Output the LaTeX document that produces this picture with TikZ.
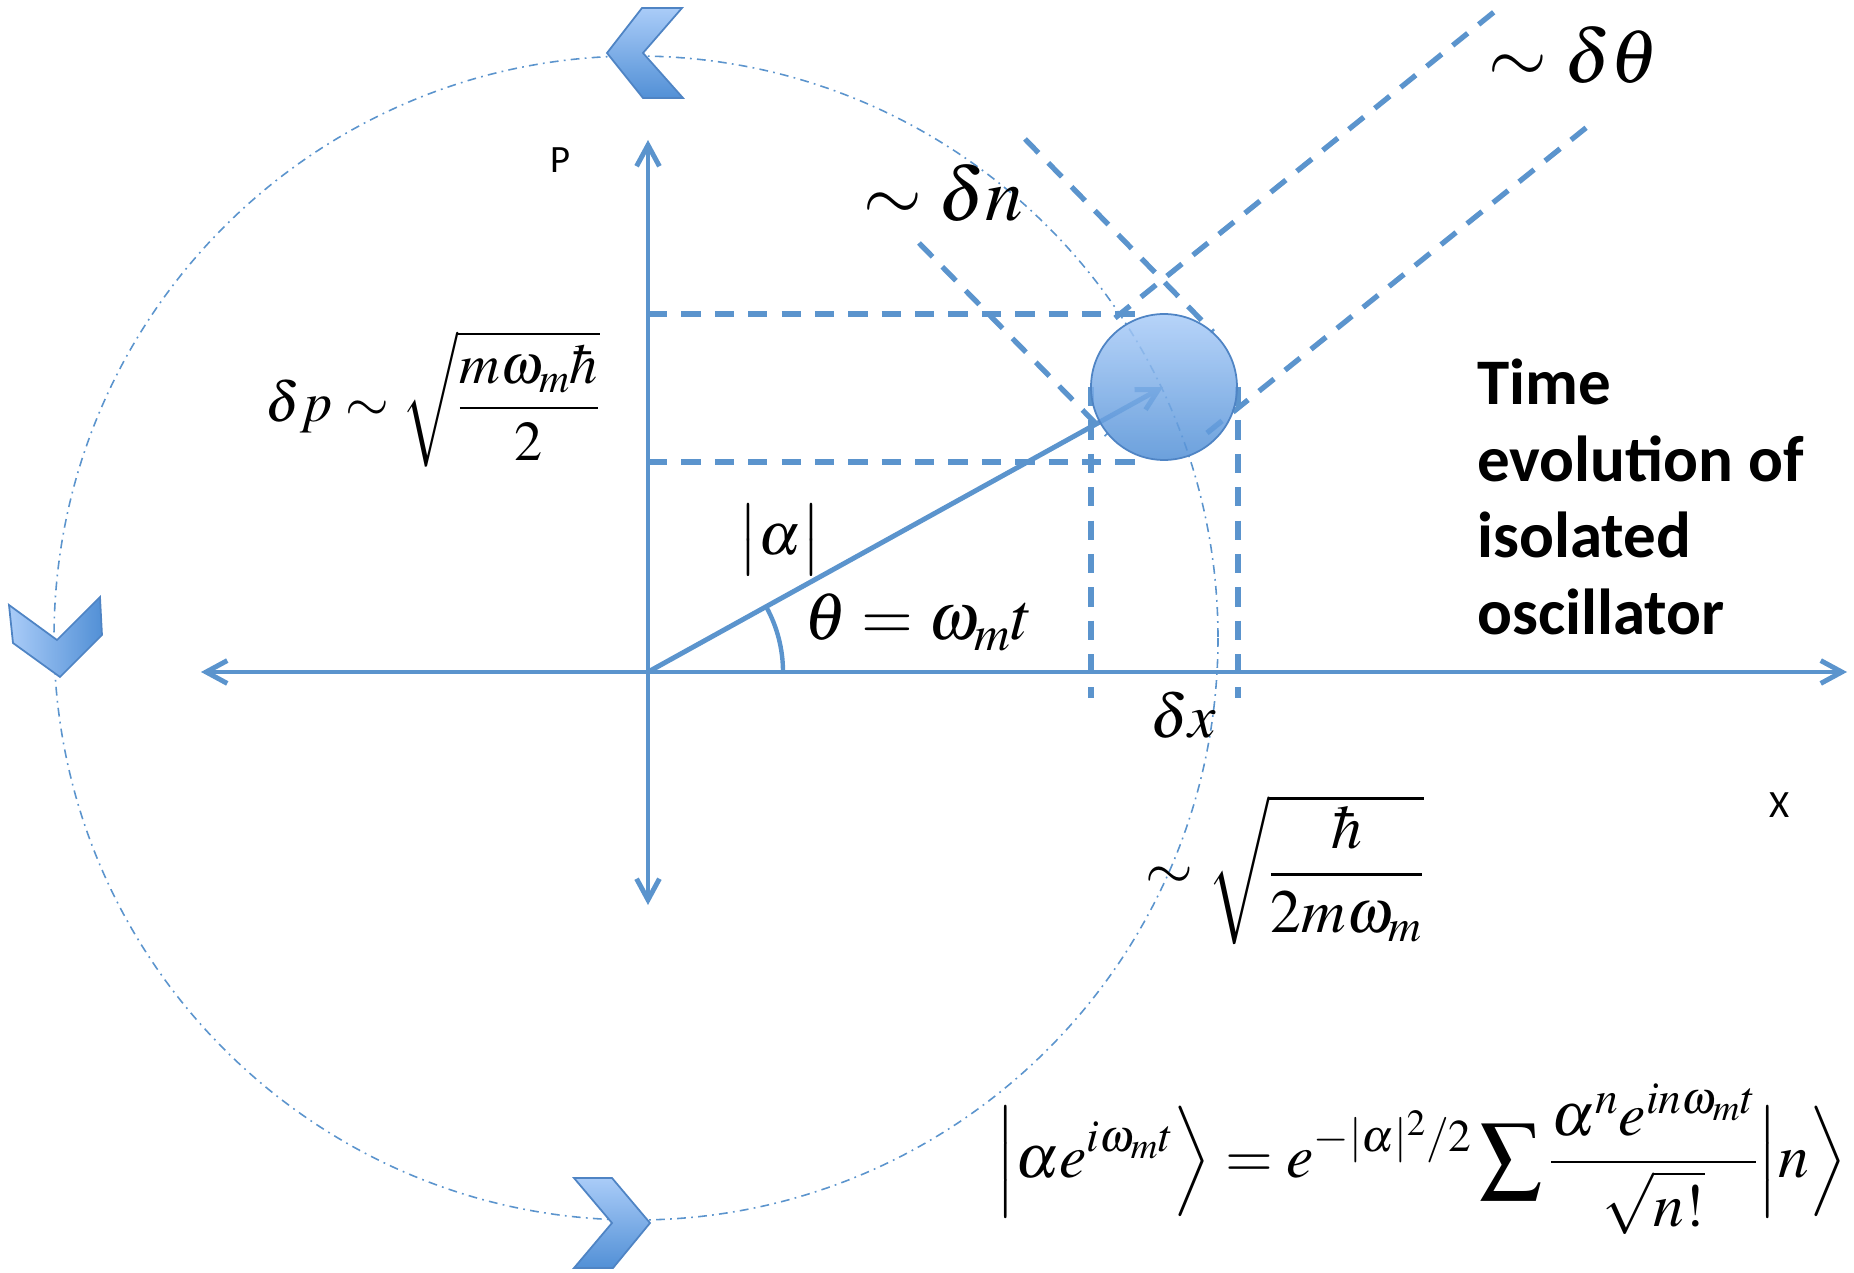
\documentclass[tikz,border=0pt]{standalone}
\usepackage{amsmath}
\usepackage{mathptmx}
\usepackage[no-math]{fontspec}
\newfontfamily\calibri{Carlito}
\usepackage{tikz}
\usetikzlibrary{arrows.meta}
\definecolor{linecol}{RGB}{91,148,205}
\definecolor{lighttop}{RGB}{170,204,248}
\definecolor{darkbot}{RGB}{82,144,214}
\definecolor{edgecol}{RGB}{79,132,196}
\tikzset{
  axis line/.style={
    draw=linecol,
    line width=2.8pt,
    line cap=round,
    {Straight Barb[length=12pt,width=13pt]}-{Straight Barb[length=12pt,width=13pt]}
  },
  vector/.style={
    draw=linecol,
    line width=2.8pt,
    line cap=round,
    -{Straight Barb[length=12pt,width=13pt]}
  },
  guide/.style={
    draw=linecol,
    line width=3pt,
    dash pattern=on 11pt off 8pt
  },
  orbit/.style={
    draw=linecol,
    line width=0.9pt,
    dash pattern=on 5pt off 3pt on 1pt off 3pt
  },
  chevron/.style={
    draw=edgecol,
    line width=1pt,
    line join=miter
  },
  blob/.style={
    circle,
    draw=edgecol,
    line width=1pt,
    top color=lighttop,
    bottom color=darkbot,
    fill opacity=0.85,
    minimum size=2.92cm
  },
  axis label/.style={font=\calibri\fontsize{22}{26}\selectfont, inner sep=0pt},
  title text/.style={font=\calibri\bfseries\fontsize{37}{43.5}\selectfont, align=left, inner sep=0pt},
  math label/.style={font=\fontsize{#1}{#1}\selectfont, inner sep=0pt}
}
\begin{document}
\begin{tikzpicture}[x=0.02cm, y=-0.02cm]
  \useasboundingbox (0,0) rectangle (1854,1273);
  % Coordinates
  \coordinate (O) at (648,672);
  \coordinate (C) at (636,638);
  \coordinate (xl) at (201,672);
  \coordinate (xr) at (1847,672);
  \coordinate (yt) at (648,140);
  \coordinate (yb) at (648,905);
  \coordinate (h1a) at (648,314);
  \coordinate (h1b) at (1142,314);
  \coordinate (h2a) at (648,462);
  \coordinate (h2b) at (1142,462);
  \coordinate (v1a) at (1091,387);
  \coordinate (v1b) at (1091,698);
  \coordinate (v2a) at (1238,387);
  \coordinate (v2b) at (1238,698);
  \coordinate (n1a) at (919,243);
  \coordinate (n1b) at (1107,435);
  \coordinate (n2a) at (1025,139);
  \coordinate (n2b) at (1213,332);
  \coordinate (t1a) at (1115,318);
  \coordinate (t1b) at (1499,8);
  \coordinate (t2a) at (1207,433);
  \coordinate (t2b) at (1592,123);

  % Axes and orbit
  \draw[axis line] (xl) -- (xr);
  \draw[axis line] (yb) -- (yt);
  \draw[orbit] (C) circle[radius=582];

  % Chevrons on the orbit
  \filldraw[chevron, top color=lighttop, bottom color=darkbot]
    (607,53) -- (642,8) -- (682,8) -- (643,53) -- (683,98) -- (643,98) -- cycle;
  \filldraw[chevron, left color=lighttop, right color=darkbot]
    (9,605) -- (57,640) -- (100,597) -- (102,635) -- (60,677) -- (13,643) -- cycle;
  \filldraw[chevron, top color=lighttop, bottom color=darkbot]
    (574,1178) -- (612,1178) -- (650,1223) -- (613,1268) -- (574,1268) -- (612,1223) -- cycle;

  % Uncertainty guides
  \draw[guide] (h1a) -- (h1b);
  \draw[guide] (h2a) -- (h2b);
  \draw[guide] (v1a) -- (v1b);
  \draw[guide] (v2a) -- (v2b);
  \draw[guide] (n1a) -- (n1b);
  \draw[guide] (n2a) -- (n2b);
  \draw[guide] (t1a) -- (t1b);
  \draw[guide] (t2a) -- (t2b);

  % State vector
  \draw[vector] (O) -- (1163,387);
  \draw[draw=linecol, line width=2.5pt] ([shift={(135,0)}]O) arc[start angle=0, end angle=-29, radius=135];
  \node[blob] (state) at (1164,387) {};

  % Labels
  \node[axis label] (plabel) at (560,160) {P};
  \node[axis label] (xlabel) at (1780,805) {X};
  \node[math label=43] (dtheta) at (1574,55) {$\sim\delta\theta$};
  \node[math label=43] (dn) at (943,193) {$\sim\delta n$};
  \node[math label=38, anchor=base west] (angle) at (804,640) {$\theta=\omega_m t$};
  \node[math label=34] (amp) at (780,540) {$\bigl|\alpha\bigr|$};
  \node[math label=32] (dp) at (433,399) {$\delta p\sim\sqrt{\dfrac{m\omega_m\hbar}{2}}$};
  \node[math label=35] (dx) at (1183,715) {$\delta x$};
  \node[math label=35] (dxval) at (1285,870) {$\sim\sqrt{\dfrac{\hbar}{2m\omega_m}}$};
  \node[math label=35] (coh) at (1421,1159)
    {$\displaystyle\Bigl|\alpha e^{i\omega_m t}\Bigr\rangle = e^{-|\alpha|^2/2}\sum\frac{\alpha^n e^{in\omega_m t}}{\sqrt{n!}}\Bigl|n\Bigr\rangle$};
  \node[title text, anchor=west] (title) at (1477,497) {Time\\evolution of\\isolated\\oscillator};
\end{tikzpicture}
\end{document}
